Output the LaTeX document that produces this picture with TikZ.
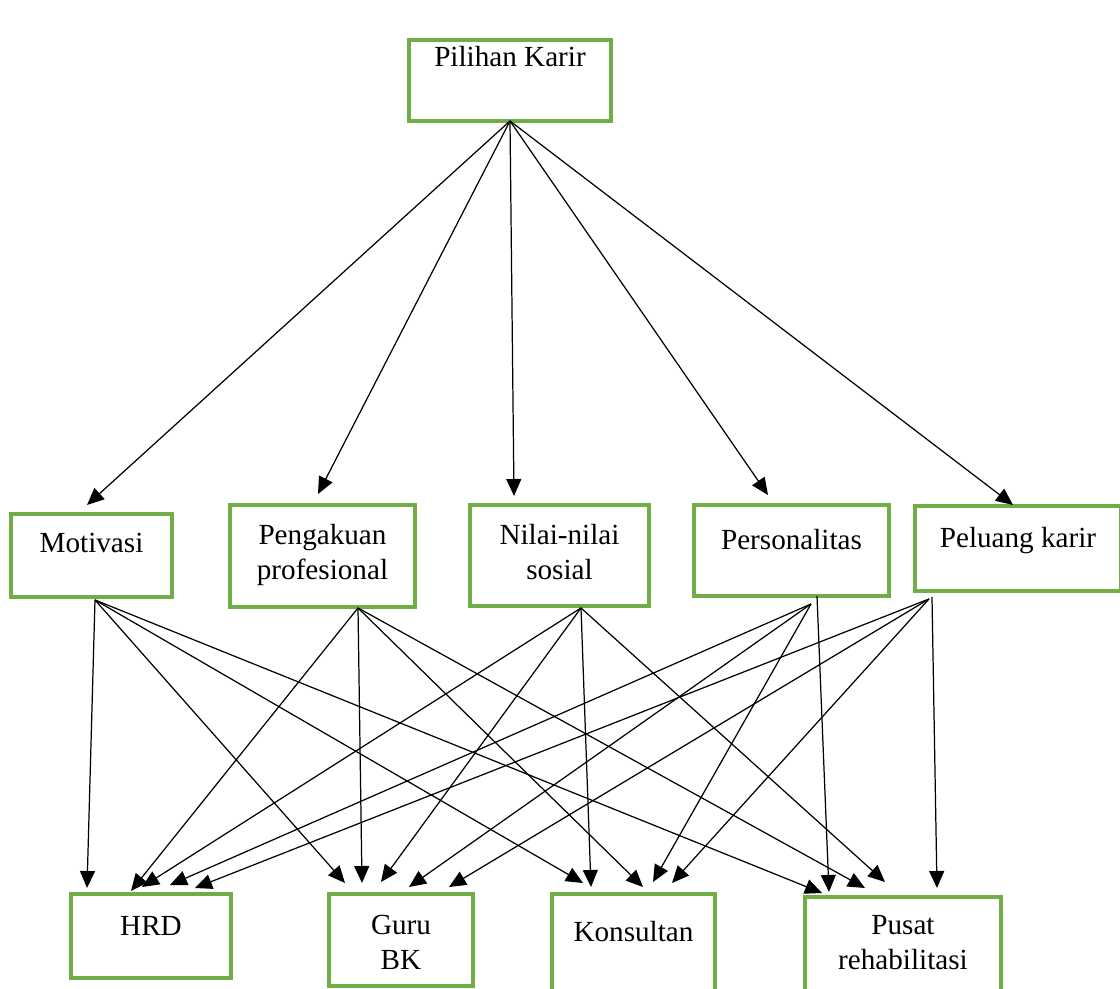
\documentclass[tikz,border=0pt]{standalone}
\usepackage{fontspec}
\setmainfont{Liberation Serif}
\usetikzlibrary{arrows.meta, calc}
\definecolor{boxgreen}{HTML}{70AD47}

\begin{document}
\begin{tikzpicture}[x=0.02cm, y=-0.02cm,
  box/.style={draw=boxgreen, line width=0.65mm, align=center, anchor=north,
    inner xsep=0pt, inner ysep=0pt, outer sep=0pt,
    font=\fontsize{16.6pt}{20.4pt}\selectfont},
  arr/.style={-{Triangle[length=3.4mm, width=3mm]}, line width=0.7pt}]
  \useasboundingbox (0,0) rectangle (1120,989);
  % top box
  \node[box, minimum width=40.4mm, text height=5.4mm, text depth=10.8mm] (karir) at (510,40) {Pilihan Karir};
  % factors
  \node[box, minimum width=32.2mm, text height=7.8mm, text depth=8.8mm] (motivasi) at (91.5,514) {Motivasi};
  \node[box, minimum width=37mm, text height=15mm, text depth=5.4mm] (pengakuan) at (322.5,505) {Pengakuan\\profesional};
  \node[box, minimum width=35.8mm, text height=15mm, text depth=5.2mm] (nilai) at (559.5,505) {Nilai-nilai\\sosial};
  \node[box, minimum width=39mm, text height=9mm, text depth=9.2mm] (personalitas) at (791.5,505) {Personalitas};
  \node[box, minimum width=41.2mm, text height=8.4mm, text depth=8.6mm] (peluang) at (1018,506) {Peluang karir};
  % careers
  \node[box, minimum width=32mm, text height=8.4mm, text depth=8.4mm] (hrd) at (151,894) {HRD};
  \node[box, minimum width=28.8mm, text height=15.2mm, text depth=3.2mm] (guru) at (401,894) {Guru\\BK};
  \node[box, minimum width=32.6mm, text height=9.6mm, text depth=10.8mm] (konsultan) at (633.5,894) {Konsultan};
  \node[box, minimum width=39.2mm, text height=14.6mm, text depth=5.2mm] (pusat) at (903,897) {Pusat\\rehabilitasi};

  % Pilihan Karir to the factors
  \draw[arr] (karir.south) -- ($(motivasi.north)+(-4.5,-9)$);
  \draw[arr] (karir.south) -- ($(pengakuan.north)+(-4.5,-11)$);
  \draw[arr] (karir.south) -- ($(nilai.north)+(-45.5,-9)$);
  \draw[arr] (karir.south) -- ($(personalitas.north)+(-23.5,-10)$);
  \draw[arr] (karir.south) -- ($(peluang.north)+(-5,-1)$);

  % start points below the factors
  \coordinate (motS) at ($(motivasi.south)+(3.5,3)$);
  \coordinate (penS) at ($(pengakuan.south)+(35.5,1)$);
  \coordinate (nilS) at ($(nilai.south)+(21.5,2)$);
  \coordinate (perS) at ($(personalitas.south)+(19.5,8)$);
  \coordinate (perV) at ($(personalitas.south)+(25.5,0)$);
  \coordinate (pelS) at ($(peluang.south)+(-89,8)$);
  \coordinate (pelV) at ($(peluang.south)+(-86,6)$);

  % Motivasi
  \draw[arr] (motS) -- ($(hrd.north)+(-64,-6)$);
  \draw[arr] (motS) -- ($(guru.north)+(-56,-11)$);
  \draw[arr] (motS) -- ($(konsultan.north)+(-50.5,-11)$);
  \draw[arr] (motS) -- ($(pusat.north)+(-81,-4)$);
  % Pengakuan profesional
  \draw[arr] (penS) -- ($(hrd.north)+(-20,-3)$);
  \draw[arr] (penS) -- ($(guru.north)+(-39,-11)$);
  \draw[arr] (penS) -- ($(konsultan.north)+(9.5,-7)$);
  \draw[arr] (penS) -- ($(pusat.north)+(-38,-9)$);
  % Nilai-nilai sosial
  \draw[arr] (nilS) -- ($(hrd.north)+(-9,-7)$);
  \draw[arr] (nilS) -- ($(guru.north)+(-20,-12)$);
  \draw[arr] (nilS) -- ($(konsultan.north)+(-42.5,-7)$);
  \draw[arr] (nilS) -- ($(pusat.north)+(-18,-15)$);
  % Personalitas
  \draw[arr] (perS) -- ($(hrd.north)+(19,-9)$);
  \draw[arr] (perS) -- ($(guru.north)+(8,-7)$);
  \draw[arr] (perS) -- ($(konsultan.north)+(19.5,-12)$);
  \draw[arr] (perV) -- ($(pusat.north)+(-74,-5)$);
  % Peluang karir
  \draw[arr] (pelS) -- ($(hrd.north)+(44,-6)$);
  \draw[arr] (pelS) -- ($(guru.north)+(48,-7)$);
  \draw[arr] (pelS) -- ($(konsultan.north)+(38.5,-11)$);
  \draw[arr] (pelV) -- ($(pusat.north)+(34,-9)$);
\end{tikzpicture}
\end{document}
